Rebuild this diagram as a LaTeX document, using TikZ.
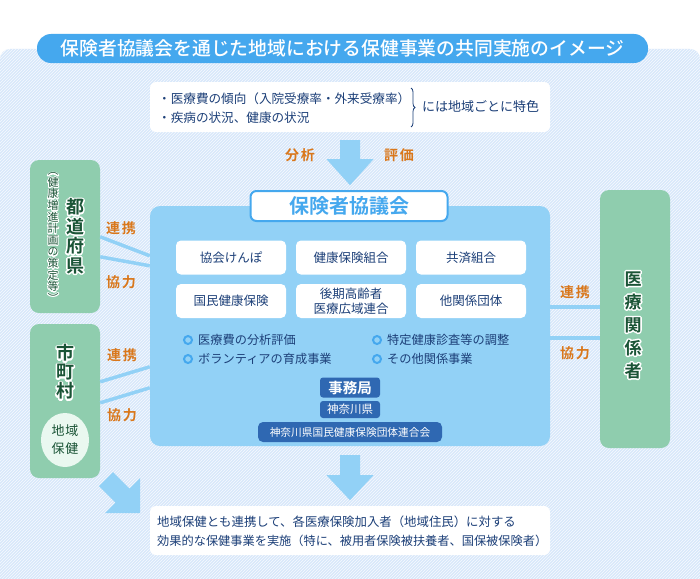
\documentclass[tikz,border=0pt]{standalone}
\usepackage{fontspec}
\setmainfont{Noto Sans CJK JP}[BoldFont={Noto Sans CJK JP Bold}]
\newfontfamily\jpmed{Noto Sans CJK JP Medium}
\usetikzlibrary{patterns,decorations.pathreplacing,calc,shapes.geometric}
\definecolor{bgblue}{HTML}{D8E8FA}
\definecolor{tblue}{HTML}{45A8EE}
\definecolor{lblue}{HTML}{92D1F6}
\definecolor{navy}{HTML}{1C3F78}
\definecolor{dblue}{HTML}{2F68B2}
\definecolor{green1}{HTML}{8FCDAE}
\definecolor{dgreen}{HTML}{1A5436}
\definecolor{cgreen}{HTML}{EAF8F0}
\definecolor{orange1}{HTML}{D9771B}
\newcommand\halo[2]{\special{pdf:literal direct 1 Tr #1 w 1 1 1 RG 1 j}#2\special{pdf:literal direct 0 Tr}}
\tikzset{
  wbox/.style={fill=white, rounded corners=6pt, inner sep=0pt},
  ibox/.style={fill=white, rounded corners=5pt, minimum width=110pt, minimum height=34pt, text=navy,
    font=\fontsize{12.5}{15}\selectfont, align=center, inner sep=0pt},
  gbox/.style={fill=green1, rounded corners=9pt, minimum width=70pt, inner sep=0pt},
  dbox/.style={fill=dblue, rounded corners=3pt, text=white, inner sep=0pt},
  lbl/.style={text=orange1, font=\fontsize{14}{16}\selectfont\bfseries},
  conn/.style={draw=lblue, line width=3.5pt},
  blk/.style={fill=lblue},
  txt/.style={text=navy, inner sep=0pt, anchor=west},
  ring/.style={circle, draw=tblue, line width=2pt, minimum size=8pt, inner sep=0pt},
  vbig/.style={text=dgreen, font=\fontsize{18}{19.5}\selectfont\bfseries, align=center, inner sep=0pt},
  vsmall/.style={text=dgreen, font=\fontsize{11}{11.6}\selectfont, align=center, inner sep=0pt},
}
\begin{document}
\begin{tikzpicture}[x=1pt,y=-1pt]
\useasboundingbox (0,0) rectangle (700,578);
\fill[white] (0,0) rectangle (700,578);
% background
\begin{scope}
  \clip (0,0) rectangle (700,578);
  \fill[bgblue, rounded corners=10pt] (0,49) rectangle (700,620);
  \fill[pattern=north east lines, pattern color=white!80!bgblue, rounded corners=10pt] (0,49) rectangle (700,620);
\end{scope}
% title
\node[fill=tblue, rounded corners=14pt, minimum width=611pt, minimum height=29pt, text=white,
  font=\fontsize{18.8}{20}\selectfont\jpmed, inner sep=0pt] (title) at (342.5,48.5)
  {保険者協議会を通じた地域における保健事業の共同実施のイメージ};
% top box
\node[wbox, minimum width=400pt, minimum height=50pt] (topbox) at (350,107) {};
\node[txt, font=\fontsize{12.6}{14}\selectfont] (t1) at (158,99) {・医療費の傾向（入院受療率・外来受療率）};
\node[txt, font=\fontsize{12.6}{14}\selectfont] (t2) at (158,118) {・疾病の状況、健康の状況};
\draw[navy, line width=0.8pt, decorate, decoration={brace, amplitude=4pt}] (411,88) -- (411,127);
\node[txt, font=\fontsize{13}{15}\selectfont] (t3) at (422,107) {には地域ごとに特色};
% arrow 1
\fill[blk] ($(topbox.south)+(-10,8)$) -- ++(20,0) -- ++(0,19) -- ++(13.5,0) -- ++(-23.5,26) -- ++(-23.5,-26) -- ++(13.5,0) -- cycle;
\node[lbl] (bunseki) at (300,155) {分\hspace{2pt}析};
\node[lbl] (hyouka) at (399,155) {評\hspace{2pt}価};
% central box
\node[fill=lblue, rounded corners=10pt, minimum width=400pt, minimum height=240pt, inner sep=0pt] (kyo) at (350,326) {};
\node[fill=white, draw=tblue, line width=2pt, rounded corners=6pt, minimum width=197pt, minimum height=30pt,
  text=tblue, font=\fontsize{20}{22}\selectfont\bfseries, inner sep=0pt] (ktitle) at (349,206) {保険者協議会};
\node[ibox] (b1) at (231,257.5) {協会けんぽ};
\node[ibox] (b2) at (351,257.5) {健康保険組合};
\node[ibox] (b3) at (471,257.5) {共済組合};
\node[ibox] (b4) at (231,301) {国民健康保険};
\node[ibox] (b5) at (351,301) {後期高齢者\\医療広域連合};
\node[ibox] (b6) at (471,301) {他関係団体};
\node[ring] (r1) at (188,340) {};
\node[ring] (r2) at (188,359) {};
\node[ring] (r3) at (377,340) {};
\node[ring] (r4) at (377,359) {};
\node[txt, font=\fontsize{12.2}{14}\selectfont] (s1) at (198,340) {医療費の分析評価};
\node[txt, font=\fontsize{12.2}{14}\selectfont] (s2) at (198,359) {ボランティアの育成事業};
\node[txt, font=\fontsize{12.2}{14}\selectfont] (s3) at (387,340) {特定健康診査等の調整};
\node[txt, font=\fontsize{12.2}{14}\selectfont] (s4) at (387,359) {その他関係事業};
\node[dbox, minimum width=60pt, minimum height=20pt, font=\fontsize{14.5}{16}\selectfont\bfseries] (jimu) at (350,387.5) {事務局};
\node[dbox, minimum width=60pt, minimum height=17pt, font=\fontsize{11.5}{13}\selectfont] (kana) at (350,409.5) {神奈川県};
\node[dbox, rounded corners=5pt, minimum width=184pt, minimum height=20pt, font=\fontsize{10.7}{12}\selectfont] (kokuho) at (350,432) {神奈川県国民健康保険団体連合会};
% left boxes
\node[gbox, minimum height=153pt] (pref) at (65,236.5) {};
\node[vbig] (prefh) at (75,236) {\halo{3}{都\\道\\府\\県}};
\node[vbig] (preft) at (75,236) {都\\道\\府\\県};
\node[vsmall] (prefsh) at (53,237.5) {\halo{2}{︵\\健\\康\\増\\進\\計\\画\\の\\策\\定\\等\\︶}};
\node[vsmall] (prefs) at (53,237.5) {︵\\健\\康\\増\\進\\計\\画\\の\\策\\定\\等\\︶};
\node[gbox, minimum height=154pt] (city) at (65,401) {};
\node[vbig, font=\fontsize{18}{19}\selectfont\bfseries] (cityh) at (65,372) {\halo{3}{市\\町\\村}};
\node[vbig, font=\fontsize{18}{19}\selectfont\bfseries] (cityt) at (65,372) {市\\町\\村};
\node[ellipse, fill=cgreen, minimum width=48pt, minimum height=54pt, inner sep=0pt, text=dgreen,
  font=\fontsize{13}{18}\selectfont, align=center] (chiiki) at (65,440) {地\hspace{1pt}域\\保\hspace{1pt}健};
% right box
\node[gbox, minimum height=258pt] (ira) at (635,319) {};
\node[vbig, font=\fontsize{17}{23}\selectfont\bfseries] (irah) at (633,325) {\halo{3}{医\\療\\関\\係\\者}};
\node[vbig, font=\fontsize{17}{23}\selectfont\bfseries] (irat) at (633,325) {医\\療\\関\\係\\者};
% connectors
\draw[conn] ($(pref.north east)+(0,77)$) -- ($(kyo.north west)+(0,50)$);
\draw[conn] ($(pref.north east)+(0,97)$) -- ($(kyo.north west)+(0,60)$);
\draw[conn] ($(city.north east)+(0,58)$) -- ($(kyo.north west)+(0,161)$);
\draw[conn] ($(city.north east)+(0,79)$) -- ($(kyo.north west)+(0,182)$);
\draw[conn] ($(kyo.north east)+(0,101)$) -- ($(ira.north west)+(0,117)$);
\draw[conn] ($(kyo.north east)+(0,132)$) -- ($(ira.north west)+(0,148)$);
\node[lbl] (l1) at (121,228) {連\hspace{2pt}携};
\node[lbl] (l2) at (121,282) {協\hspace{2pt}力};
\node[lbl] (l3) at (122,355) {連\hspace{2pt}携};
\node[lbl] (l4) at (122,415) {協\hspace{2pt}力};
\node[lbl] (l5) at (575,292) {連\hspace{2pt}携};
\node[lbl] (l6) at (575,353) {協\hspace{2pt}力};
% arrow 2
\fill[blk] ($(kyo.south)+(-10,9)$) -- ++(20,0) -- ++(0,20) -- ++(13.5,0) -- ++(-23.5,25) -- ++(-23.5,-25) -- ++(13.5,0) -- cycle;
% diagonal arrow
\fill[blk] (113,472) -- (129.5,488.5) -- (140,478) -- (140,513) -- (105,513) -- (115.5,502.5) -- (99,486) -- cycle;
% bottom box
\node[wbox, minimum width=400pt, minimum height=49pt] (botbox) at (350,530.5) {};
\node[txt, font=\fontsize{12.4}{14}\selectfont] (u1) at (157,522) {地域保健とも連携して、各医療保険加入者（地域住民）に対する};
\node[txt, font=\fontsize{12.2}{14}\selectfont] (u2) at (157,541) {効果的な保健事業を実施（特に、被用者保険被扶養者、国保被保険者）};
\end{tikzpicture}
\end{document}
